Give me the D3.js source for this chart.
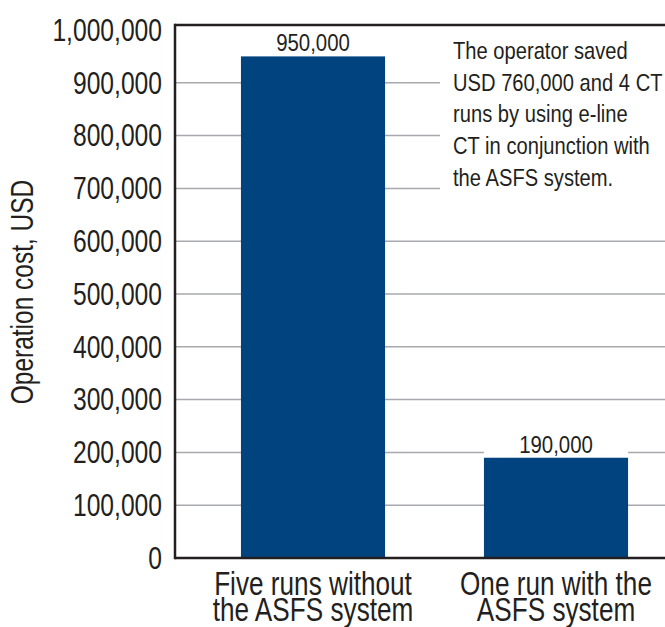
<!DOCTYPE html>
<html><head><meta charset="utf-8">
<script src="https://cdn.jsdelivr.net/npm/d3@7"></script>
<style>
body{margin:0;background:#fff}
svg text{font-family:"Liberation Sans",Arial,sans-serif;fill:#231f20}
</style>
</head><body>
<svg id="c" width="665" height="627"></svg>
<script>
// ---- data ----
const categories = ["Five runs without|the ASFS system", "One run with the|ASFS system"];
const values = [950000, 190000];
const valueLabels = ["950,000", "190,000"];
const yTicks = [0, 100000, 200000, 300000, 400000, 500000, 600000, 700000, 800000, 900000, 1000000];
const yTitle = "Operation cost, USD";
const noteLines = ["The operator saved", "USD 760,000 and 4 CT", "runs by using e-line", "CT in conjunction with", "the ASFS system."];

// ---- layout ----
const plotL = 175, plotR = 665, plotT = 25, plotB = 558;
const svg = d3.select("#c");

// condensed look: compress glyphs horizontally around the text anchor
function squeeze(sel, k) {
  sel.each(function () {
    const t = d3.select(this);
    const x0 = +t.attr("x") || 0, y0 = +t.attr("y") || 0;
    t.attr("x", 0).attr("y", 0).attr("transform", `translate(${x0},${y0}) scale(${k},1)`);
  });
}

const y = d3.scaleLinear().domain([0, 1000000]).range([plotB, 30]);
const x = d3.scaleBand().domain(d3.range(categories.length))
  .range([191.5, 677.5]).paddingInner(0.407).paddingOuter(0.2035);

// gridlines
svg.append("g").selectAll("line").data(yTicks.filter(d => d > 0 && d < 1000000)).join("line")
  .attr("x1", plotL).attr("x2", plotR)
  .attr("y1", d => y(d)).attr("y2", d => y(d))
  .attr("stroke", "#a7a9ac").attr("stroke-width", 1.5);

// annotation background + text
svg.append("rect").attr("x", 440).attr("y", 30).attr("width", plotR - 440).attr("height", 170).attr("fill", "#fff");
svg.append("g").selectAll("text").data(noteLines).join("text")
  .attr("x", 453).attr("y", (d, i) => 59 + i * 31.7)
  .attr("font-size", 24).text(d => d)
  .call(squeeze, 0.84);

// bars
svg.append("g").selectAll("rect").data(values).join("rect")
  .attr("x", (d, i) => x(i)).attr("width", x.bandwidth())
  .attr("y", d => y(d)).attr("height", d => plotB - y(d))
  .attr("fill", "#00437f");

// value labels
const vl = svg.append("g").selectAll("g").data(values).join("g");
vl.append("rect").attr("x", (d, i) => x(i)).attr("width", x.bandwidth())
  .attr("y", d => y(d) - 24).attr("height", 23.5).attr("fill", "#fff");
vl.append("text").attr("x", (d, i) => x(i) + x.bandwidth() / 2)
  .attr("y", d => y(d) - 5).attr("text-anchor", "middle").attr("font-size", 24)
  .text((d, i) => valueLabels[i])
  .call(squeeze, 0.85);

// y axis tick labels
const ya = svg.append("g").attr("transform", `translate(${plotL},0)`)
  .call(d3.axisLeft(y).tickValues(yTicks).tickFormat(d3.format(",")).tickSize(0).tickPadding(13));
ya.select(".domain").remove();
ya.attr("font-family", null).attr("font-size", 32);
ya.selectAll("text").attr("fill", "#231f20").call(squeeze, 0.77);

// x labels (two lines each, one text element per category)
const xt = svg.append("g").selectAll("text").data(categories).join("text")
  .attr("x", (d, i) => x(i) + x.bandwidth() / 2)
  .attr("text-anchor", "middle").attr("font-size", 32.5);
xt.selectAll("tspan").data(d => d.split("|")).join("tspan")
  .attr("x", 0).attr("y", (d, i) => 595 + i * 26.5).text(d => d);
xt.call(squeeze, 0.805);

// frame lines
const frame = svg.append("g").attr("stroke", "#231f20").attr("stroke-width", 2.5).attr("fill", "none");
frame.append("line").attr("x1", plotL).attr("x2", plotL).attr("y1", plotT - 1.25).attr("y2", plotB + 1.25);
frame.append("line").attr("x1", plotL).attr("x2", plotR).attr("y1", plotB).attr("y2", plotB);
frame.append("line").attr("x1", plotL).attr("x2", plotR).attr("y1", plotT).attr("y2", plotT);

// y title
svg.append("g").attr("transform", "translate(33,292) rotate(-90)")
  .append("text").attr("text-anchor", "middle").attr("font-size", 31).text(yTitle)
  .call(squeeze, 0.79);
</script>
</body></html>
